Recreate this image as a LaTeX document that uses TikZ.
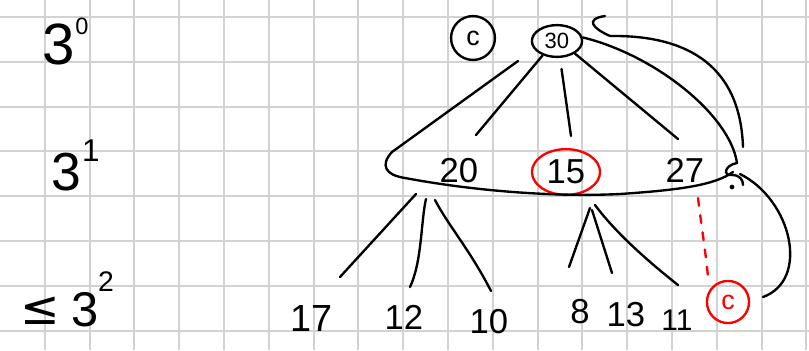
\documentclass[tikz,border=0pt]{standalone}
\usepackage{fontspec}
\setmainfont{Liberation Sans}
\newfontfamily\symbolfont{DejaVu Sans}
\usetikzlibrary{shapes.geometric}
\tikzstyle{stroke} = [line width=1.5pt, line cap=round, line join=round]
\tikzstyle{gridline} = [line width=1.3pt, gray!35]
\tikzstyle{digit} = [inner sep=1pt, font=\fontsize{22}{24}\selectfont]
\tikzstyle{power} = [inner sep=0pt]
\tikzstyle{redline} = [stroke, red]

\begin{document}
\begin{tikzpicture}[x=0.02232cm, y=-0.02232cm]

    \useasboundingbox (0,0) rectangle (809,350);

    % Grid paper
    \foreach \k in {1,...,18}
        \draw[gridline] (\k*44.8,0) -- (\k*44.8,350);
    \foreach \k in {0,...,7}
        \draw[gridline] (0,17+\k*44.8) -- (809,17+\k*44.8);

    % Powers of three
    \node[power, font=\fontsize{37}{40}\selectfont] (three0) at (59,44) {3};
    \node[power, font=\fontsize{15}{16}\selectfont] (exp0) at (82,26) {0};
    \node[power, font=\fontsize{34}{36}\selectfont] (three1) at (66,172) {3};
    \node[power, font=\fontsize{20}{22}\selectfont] (exp1) at (91,151) {1};
    \node[power, font=\fontsize{30}{32}\selectfont] (leq) at (40,311) {\symbolfont ≤};
    \node[power, font=\fontsize{31}{33}\selectfont] (three2) at (85,310) {3};
    \node[power, font=\fontsize{18}{20}\selectfont] (exp2) at (106,282) {2};

    % Nodes
    \node[draw, circle, stroke, minimum size=0.98cm, inner sep=0pt, font=\fontsize{17}{18}\selectfont] (nc) at (473,38) {c};
    \node[draw, ellipse, stroke, minimum width=1.12cm, minimum height=0.71cm, inner sep=0pt, font=\fontsize{14}{15}\selectfont] (n30) at (557,41) {30};
    \node[digit] (n20) at (459,171) {20};
    \node[draw=red, ellipse, stroke, digit, inner sep=0pt, minimum width=1.52cm, minimum height=1.02cm] (n15) at (566,172) {15};
    \node[digit] (n27) at (685,170) {27};
    \node[digit, font=\fontsize{24}{26}\selectfont] (n17) at (312,318) {17};
    \node[digit] (n12) at (404,317) {12};
    \node[digit] (n10) at (489,322) {10};
    \node[digit] (n8) at (580,312) {8};
    \node[digit] (n13) at (626,315) {13};
    \node[digit, font=\fontsize{19}{21}\selectfont] (n11) at (677,320) {11};
    \node[draw=red, circle, stroke, text=red, minimum size=0.94cm, inner sep=0pt, font=\fontsize{17}{18}\selectfont] (rc) at (728,302) {c};

    % Points
    \coordinate (t20) at (476,135);
    \coordinate (t15) at (571,136);
    \coordinate (t27) at (678,139);
    \coordinate (f17) at (416,194);
    \coordinate (t17) at (340,277);
    \coordinate (f12) at (426,199);
    \coordinate (t12) at (410,287);
    \coordinate (f10) at (435,200);
    \coordinate (t10) at (491,291);
    \coordinate (f8) at (590,208);
    \coordinate (t8) at (569,267);
    \coordinate (f13) at (592,210);
    \coordinate (t13) at (612,273);
    \coordinate (f11) at (595,205);
    \coordinate (t11) at (678,285);
    \coordinate (curl) at (737,163);
    \coordinate (back) at (743,147);
    \coordinate (hook) at (610,36);
    \coordinate (d27) at (698,198);
    \coordinate (dc) at (708,277);
    \coordinate (lc) at (763,297);

    % Edges from the root
    \draw[stroke] (n30.225) -- (t20);
    \draw[stroke, shorten <=7pt] (n30.-80) -- (t15);
    \draw[stroke] (n30.-35) -- (t27);

    % Subtree outline
    \draw[stroke] (518,61) -- (392,152) .. controls (380,165) and (385,175) .. (405,178)
        .. controls (480,192) and (560,197) .. (620,194) .. controls (680,190) and (715,185) .. (733,172);
    \draw[stroke] (n30.8) .. controls (655,55) and (730,115) .. (curl);
    \draw[stroke] (curl) .. controls (725,165) and (722,176) .. (732,175) .. controls (740,175) and (743,180) .. (743,185);
    \fill (732,187) circle (1.5pt);

    % Way back up
    \draw[stroke] (back) .. controls (740,60) and (680,35) .. (hook);
    \draw[stroke] (605,16) .. controls (585,19) and (592,28) .. (hook);

    % Children
    \draw[stroke] (f17) -- (t17);
    \draw[stroke] (f12) .. controls (421,220) and (422,262) .. (t12);
    \draw[stroke] (f10) .. controls (448,225) and (470,250) .. (t10);
    \draw[stroke] (f8) -- (t8);
    \draw[stroke] (f13) -- (t13);
    \draw[stroke] (f11) .. controls (612,228) and (640,255) .. (t11);

    % New leaf
    \draw[redline, dash pattern=on 5pt off 6pt] (d27) .. controls (702,230) and (706,255) .. (dc);
    \draw[stroke] (740,174) .. controls (792,200) and (810,280) .. (lc);

\end{tikzpicture}
\end{document}
